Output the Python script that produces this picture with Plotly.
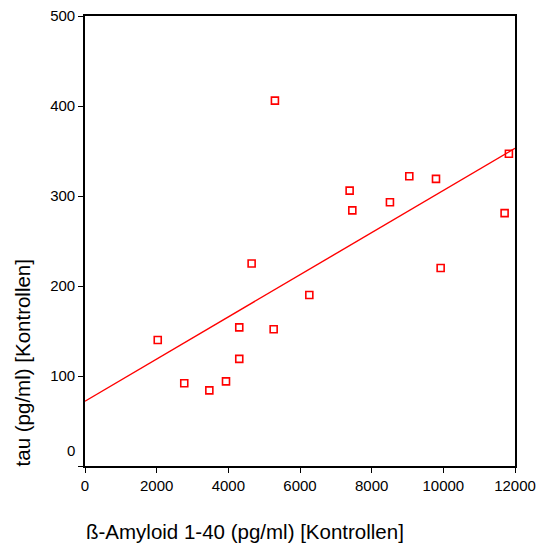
import plotly.graph_objects as go

# Data
beta_amyloid = [2030, 2770, 3470, 3935, 4305, 4305, 4650, 5265, 5300, 6260,
                7385, 7460, 8510, 9050, 9795, 9925, 11710, 11830]
tau = [140, 92, 84, 94, 119, 154, 225, 152, 406, 190,
       306, 284, 293, 322, 319, 220, 281, 347]

fit_x = [0, 12000]
fit_y = [72, 353]

x_ticks = [0, 2000, 4000, 6000, 8000, 10000, 12000]
y_ticks = [0, 100, 200, 300, 400, 500]
y_tick_labels = ["", "100", "200", "300", "400", "500"]

FONT = "Liberation Sans, Arial, Helvetica, sans-serif"

fig = go.Figure()
fig.add_trace(go.Scatter(
    x=fit_x, y=fit_y, mode="lines",
    line=dict(color="#ff0000", width=1.4),
    showlegend=False, hoverinfo="skip"))
fig.add_trace(go.Scatter(
    x=beta_amyloid, y=tau, mode="markers",
    marker=dict(symbol="square-open", size=7, color="#ff0000",
                line=dict(width=1.6, color="#ff0000")),
    showlegend=False, cliponaxis=False))

fig.update_layout(
    width=539, height=549,
    margin=dict(l=85, r=24, t=16, b=83),
    plot_bgcolor="white", paper_bgcolor="white",
    font=dict(family=FONT, size=15, color="black"),
    xaxis=dict(range=[0, 12000], tickvals=x_ticks,
               ticktext=[str(v) for v in x_ticks],
               showgrid=False, zeroline=False, automargin=False,
               showline=True, linecolor="black", linewidth=1.6, mirror=True,
               ticks="outside", ticklen=5, tickwidth=1.3, tickcolor="black",
               tickfont=dict(size=15)),
    yaxis=dict(range=[0, 500], tickvals=y_ticks, ticktext=y_tick_labels,
               showgrid=False, zeroline=False, automargin=False,
               showline=True, linecolor="black", linewidth=1.6, mirror=True,
               ticks="outside", ticklen=5, tickwidth=1.3, tickcolor="black",
               tickfont=dict(size=15)),
    annotations=[
        dict(text="0", xref="paper", yref="paper", x=-0.018, y=0.035,
             xanchor="right", yanchor="middle", showarrow=False,
             font=dict(size=15)),
        dict(text="ß-Amyloid 1-40 (pg/ml) [Kontrollen]", xref="paper", yref="paper",
             x=-0.002, y=-0.145, xanchor="left", yanchor="middle",
             showarrow=False, font=dict(size=20.5)),
        dict(text="tau (pg/ml) [Kontrollen]", xref="paper", yref="paper",
             x=-0.1465, y=0.228, xanchor="center", yanchor="middle", textangle=-90,
             showarrow=False, font=dict(size=20.5)),
    ],
)

fig.write_html("out.html")
